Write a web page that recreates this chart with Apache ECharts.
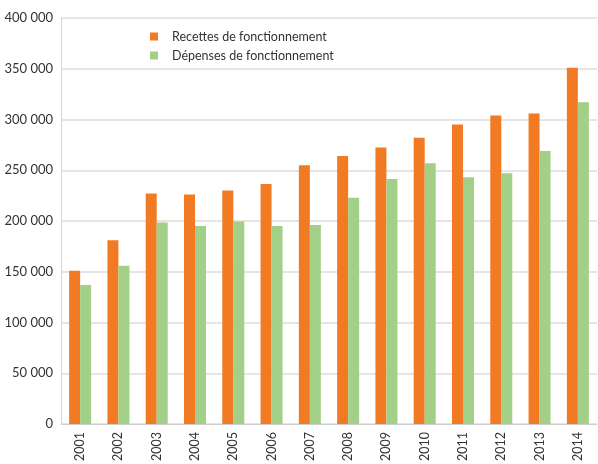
<!DOCTYPE html>
<html>
<head>
<meta charset="utf-8">
<script src="https://cdn.jsdelivr.net/npm/echarts@6/dist/echarts.min.js"></script>
<style>
  html, body { margin: 0; padding: 0; background: #fff; }
  #chart { width: 598px; height: 464px; }
</style>
</head>
<body>
<div id="chart"></div>
<script>
// données
const years = ['2001', '2002', '2003', '2004', '2005', '2006', '2007', '2008', '2009', '2010', '2011', '2012', '2013', '2014']
const recettes = [151000, 181000, 227000, 226000, 230000, 236500, 255000, 264000, 272500, 282000, 295000, 304000, 306000, 351000]
const depenses = [137000, 156000, 198500, 195000, 199500, 195000, 196000, 223000, 241500, 257000, 243000, 247000, 269000, 317000]
const seriesNames = ['Recettes de fonctionnement', 'Dépenses de fonctionnement']

const fmt = (v) => String(v).replace(/\B(?=(\d{3})+(?!\d))/g, ' ')

const chart = echarts.init(document.getElementById('chart'))

chart.setOption({
  animation: false,
  textStyle: { fontFamily: 'Lato, "Open Sans", sans-serif' },
  legend: {
    orient: 'vertical',
    left: 145,
    top: 25,
    itemWidth: 8,
    itemHeight: 8,
    itemGap: 6,
    icon: 'rect',
    textStyle: {
      color: '#333',
      fontSize: 12.5,
      padding: [0, 0, 0, 9],
    },
    data: seriesNames,
  },
  grid: {
    left: 61,
    right: 1,
    top: 18,
    bottom: 35,
    containLabel: false,
  },
  xAxis: {
    type: 'category',
    data: years,
    axisTick: { show: false },
    axisLine: { lineStyle: { color: '#cfcfcf', width: 1 } },
    axisLabel: {
      rotate: 90,
      color: '#333',
      fontSize: 12.5,
      margin: 8,
    },
  },
  yAxis: {
    type: 'value',
    min: 0,
    max: 400000,
    interval: 50000,
    axisLine: { show: true, lineStyle: { color: '#d6d6d6', width: 1 } },
    axisTick: { show: false },
    axisLabel: {
      color: '#333',
      fontSize: 13,
      margin: 8,
      formatter: fmt,
    },
    splitLine: {
      lineStyle: { color: '#dcdcdc', width: 1.5 },
    },
  },
  series: [
    {
      name: seriesNames[0],
      type: 'bar',
      data: recettes,
      barWidth: 11,
      barGap: '0%',
      itemStyle: { color: '#f27a22' },
    },
    {
      name: seriesNames[1],
      type: 'bar',
      data: depenses,
      barWidth: 11,
      itemStyle: { color: '#a2d088' },
    },
  ],
})
</script>
</body>
</html>
